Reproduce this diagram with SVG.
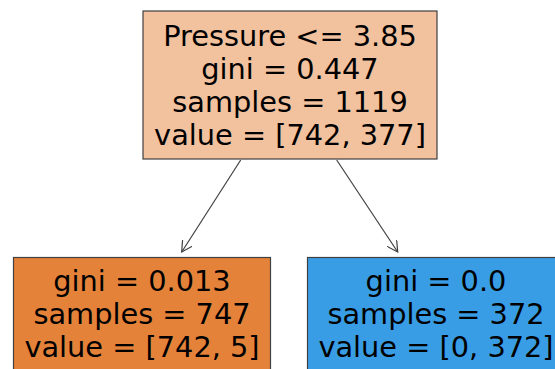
<svg xmlns="http://www.w3.org/2000/svg" width="555" height="369" viewBox="0 0 555 369">
  <style>
    .box { stroke: #404040; stroke-width: 1.2; }
    .lbl { font-family: "DejaVu Sans", sans-serif; font-size: 28.8px; fill: #000; text-anchor: middle; }
    .edge { stroke: #404040; stroke-width: 1.2; fill: none; }
  </style>
  <defs>
    <marker id="open-arrow" viewBox="0 0 12 12" refX="11" refY="6" markerWidth="12" markerHeight="12" markerUnits="userSpaceOnUse" orient="auto">
      <path d="M0,0 L11,6 L0,12" fill="none" stroke="#404040" stroke-width="1.2"/>
    </marker>
  </defs>
  <rect width="555" height="369" fill="#fff"/>
  <g id="edges">
    <line class="edge" x1="240.7" y1="160" x2="181.7" y2="252" marker-end="url(#open-arrow)"/>
    <line class="edge" x1="336.7" y1="160" x2="397.7" y2="252" marker-end="url(#open-arrow)"/>
  </g>
  <g id="node-root">
    <rect class="box" x="143" y="11" width="294" height="148" fill="#f2c19e"/>
    <text class="lbl" x="290" y="45.5">Pressure &lt;= 3.85</text>
    <text class="lbl" x="290" y="78.5">gini = 0.447</text>
    <text class="lbl" x="290" y="111.5">samples = 1119</text>
    <text class="lbl" x="290" y="144.5">value = [742, 377]</text>
  </g>
  <g id="node-left">
    <rect class="box" x="13.5" y="257.5" width="257" height="120" fill="#e5823a"/>
    <text class="lbl" x="142" y="291">gini = 0.013</text>
    <text class="lbl" x="142" y="324">samples = 747</text>
    <text class="lbl" x="142" y="357">value = [742, 5]</text>
  </g>
  <g id="node-right">
    <rect class="box" x="307.5" y="257.5" width="257" height="120" fill="#399de5"/>
    <text class="lbl" x="436" y="291">gini = 0.0</text>
    <text class="lbl" x="436" y="324">samples = 372</text>
    <text class="lbl" x="436" y="357">value = [0, 372]</text>
  </g>
</svg>
